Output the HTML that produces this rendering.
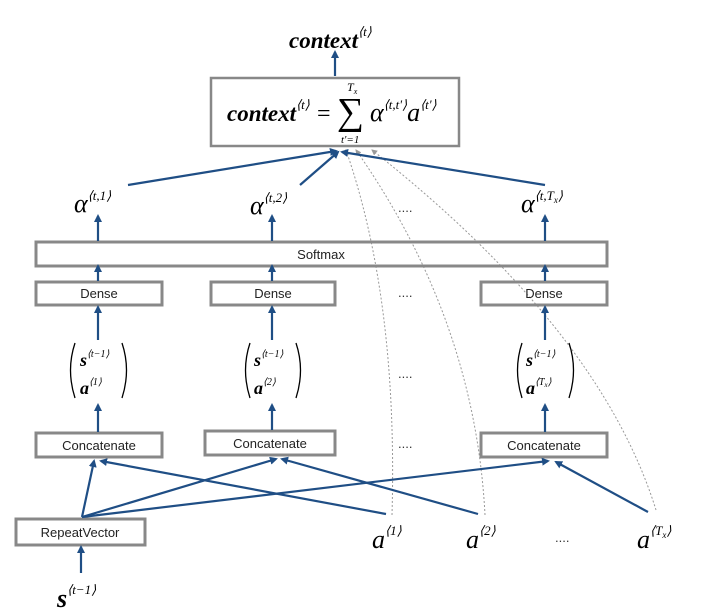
<!DOCTYPE html>
<html><head><meta charset="utf-8"><style>
body{margin:0;background:#fff;}
svg{display:block;}
.m{font-family:"Liberation Serif",serif;font-style:italic;fill:#000;}
.b{font-family:"Liberation Sans",sans-serif;font-size:13px;fill:#222;}
</style></head><body>
<svg width="715" height="611" viewBox="0 0 715 611" xmlns="http://www.w3.org/2000/svg">
<defs>
<marker id="ar" markerWidth="8" markerHeight="8" refX="6" refY="4" orient="auto" markerUnits="userSpaceOnUse"><path d="M0,0 L8,4 L0,8 Z" fill="#1f4e85"/></marker>
<marker id="ag" markerWidth="6" markerHeight="6" refX="5" refY="3" orient="auto" markerUnits="userSpaceOnUse"><path d="M0,0 L6,3 L0,6 Z" fill="#999"/></marker>
</defs>
<g fill="none" stroke="#999" stroke-width="1" stroke-dasharray="2,2">
<path d="M392,515 Q398,300 346,150" marker-end="url(#ag)"/>
<path d="M485,515 Q475,320 356,150" marker-end="url(#ag)"/>
<path d="M656,510 Q600,330 372,150" marker-end="url(#ag)"/>
</g>
<g fill="none" stroke="#888" stroke-width="3">
<rect x="211" y="78" width="248" height="68" stroke-width="2.5"/>
<rect x="36" y="242" width="571" height="24"/>
<rect x="36" y="282" width="126" height="23"/>
<rect x="211" y="282" width="124" height="23"/>
<rect x="481" y="282" width="126" height="23"/>
<rect x="36" y="433" width="126" height="24"/>
<rect x="205" y="431" width="130" height="24"/>
<rect x="481" y="433" width="126" height="24"/>
<rect x="16" y="519" width="129" height="26"/>
</g>
<g stroke="#1f4e85" stroke-width="2.2" fill="none" marker-end="url(#ar)">
<line x1="335" y1="76" x2="335" y2="52"/>
<line x1="128" y1="185" x2="336" y2="151"/>
<line x1="300" y1="185" x2="338" y2="152"/>
<line x1="545" y1="185" x2="342" y2="152"/>
<line x1="98" y1="241" x2="98" y2="216"/>
<line x1="272" y1="241" x2="272" y2="216"/>
<line x1="545" y1="241" x2="545" y2="216"/>
<line x1="98" y1="281" x2="98" y2="266"/>
<line x1="272" y1="281" x2="272" y2="266"/>
<line x1="545" y1="281" x2="545" y2="266"/>
<line x1="98" y1="340" x2="98" y2="307"/>
<line x1="272" y1="340" x2="272" y2="307"/>
<line x1="545" y1="340" x2="545" y2="307"/>
<line x1="98" y1="432" x2="98" y2="405"/>
<line x1="272" y1="430" x2="272" y2="405"/>
<line x1="545" y1="432" x2="545" y2="405"/>
<line x1="81" y1="573" x2="81" y2="547"/>
<line x1="82" y1="517" x2="94" y2="461"/>
<line x1="82" y1="517" x2="276" y2="459"/>
<line x1="82" y1="517" x2="548" y2="461"/>
<line x1="386" y1="514" x2="101" y2="461"/>
<line x1="478" y1="514" x2="282" y2="459"/>
<line x1="648" y1="512" x2="556" y2="462"/>
</g>
<text class="m" x="289" y="48" font-size="23" font-weight="bold">context<tspan font-size="13" dy="-12" font-weight="normal">⟨t⟩</tspan></text>
<text class="m" x="227" y="121" font-size="23" font-weight="bold">context<tspan font-size="13" dy="-12" font-weight="normal">⟨t⟩</tspan></text>
<text class="m" x="317" y="121" font-size="24" style="font-style:normal">=</text>
<text x="337" y="124" font-size="38" font-family="Liberation Serif,serif">∑</text>
<text class="m" x="347" y="91" font-size="12">T<tspan font-size="8" dy="3">x</tspan></text>
<text class="m" x="341" y="143" font-size="11">t'=1</text>
<text class="m" x="370" y="121" font-size="26">α<tspan font-size="13" dy="-12">⟨t,t'⟩</tspan><tspan font-size="26" dy="12">a</tspan><tspan font-size="13" dy="-12">⟨t'⟩</tspan></text>
<text class="m" x="74" y="212" font-size="26">α<tspan font-size="13" dy="-12">⟨t,1⟩</tspan></text>
<text class="m" x="250" y="214" font-size="26">α<tspan font-size="13" dy="-12">⟨t,2⟩</tspan></text>
<text class="m" x="521" y="212" font-size="26">α<tspan font-size="13" dy="-12">⟨t,T<tspan font-size="9" dy="3">x</tspan><tspan dy="-3">⟩</tspan></tspan></text>
<text class="b" x="321" y="259" text-anchor="middle">Softmax</text>
<text class="b" x="99" y="298" text-anchor="middle">Dense</text>
<text class="b" x="273" y="298" text-anchor="middle">Dense</text>
<text class="b" x="544" y="298" text-anchor="middle">Dense</text>
<text class="b" x="99" y="450" text-anchor="middle">Concatenate</text>
<text class="b" x="270" y="448" text-anchor="middle">Concatenate</text>
<text class="b" x="544" y="450" text-anchor="middle">Concatenate</text>
<text class="b" x="80" y="537" text-anchor="middle">RepeatVector</text>
<g font-family="Liberation Sans,sans-serif" font-size="13" fill="#333">
<text x="398" y="212">....</text><text x="398" y="297">....</text><text x="398" y="378">....</text><text x="398" y="448">....</text><text x="555" y="542">....</text>
</g>
<g fill="none" stroke="#000" stroke-width="1.3">
<path d="M75,343 Q66,370 75,398"/><path d="M122,343 Q131,370 122,398"/>
<path d="M250,343 Q241,370 250,398"/><path d="M296,343 Q305,370 296,398"/>
<path d="M522,343 Q513,370 522,398"/><path d="M569,343 Q578,370 569,398"/>
</g>
<g class="m" font-weight="bold">
<text x="80" y="366" font-size="18">s<tspan font-size="10" font-weight="normal" dy="-9">⟨t−1⟩</tspan></text>
<text x="80" y="394" font-size="18">a<tspan font-size="10" font-weight="normal" dy="-9">⟨1⟩</tspan></text>
<text x="254" y="366" font-size="18">s<tspan font-size="10" font-weight="normal" dy="-9">⟨t−1⟩</tspan></text>
<text x="254" y="394" font-size="18">a<tspan font-size="10" font-weight="normal" dy="-9">⟨2⟩</tspan></text>
<text x="526" y="366" font-size="18">s<tspan font-size="10" font-weight="normal" dy="-9">⟨t−1⟩</tspan></text>
<text x="526" y="394" font-size="18">a<tspan font-size="10" font-weight="normal" dy="-9">⟨T<tspan font-size="7" dy="2">x</tspan><tspan dy="-2">⟩</tspan></tspan></text>
</g>
<text class="m" x="372" y="548" font-size="26">a<tspan font-size="13" dy="-13">⟨1⟩</tspan></text>
<text class="m" x="466" y="548" font-size="26">a<tspan font-size="13" dy="-13">⟨2⟩</tspan></text>
<text class="m" x="637" y="548" font-size="26">a<tspan font-size="13" dy="-13">⟨T<tspan font-size="9" dy="3">x</tspan><tspan dy="-3">⟩</tspan></tspan></text>
<text class="m" x="57" y="607" font-size="26" font-weight="bold">s<tspan font-size="13" font-weight="normal" dy="-13">⟨t−1⟩</tspan></text>
</svg>
</body></html>
